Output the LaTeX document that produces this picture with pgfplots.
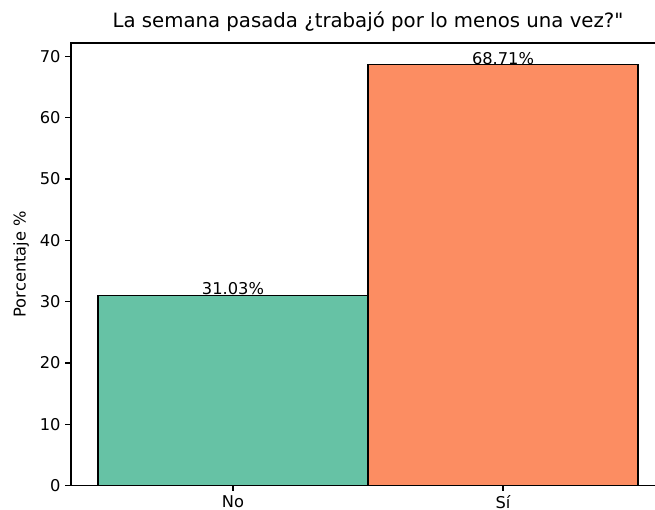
\documentclass[border=0pt]{standalone}
\usepackage{pgfplots}
\pgfplotsset{compat=1.18}
\usepackage{fontspec}
\setmainfont{DejaVu Sans}[Ligatures=TeXOff]
\definecolor{cno}{HTML}{66C2A5}
\definecolor{csi}{HTML}{FC8D62}
\begin{document}
\begin{tikzpicture}
% the reference is cropped at the right and bottom
\clip (-51.1pt,-17.3pt) rectangle (420.5pt,349.5pt);
\begin{axis}[
  scale only axis, width=427.7pt, height=318.5pt,
  xmin=-0.6, xmax=1.6, ymin=0, ymax=72.2,
  xtick={0,1}, xticklabels={No,Sí},
  ytick={0,10,...,70},
  tick align=outside, tick pos=left,
  major tick length=4pt,
  every tick/.style={black, line width=0.9pt},
  axis line style={black, line width=0.9pt},
  tick label style={font=\fontsize{11.7}{14}\selectfont},
  /pgf/number format/assume math mode=true,
  ylabel={Porcentaje \%},
  label style={font=\fontsize{11.7}{14}\selectfont},
  ylabel style={yshift=1pt},
  title={La semana pasada ¿trabajó por lo menos una vez?"},
  title style={font=\fontsize{14.2}{16}\selectfont, yshift=-1pt},
  ybar, bar shift=0pt, bar width=1,
  nodes near coords={\pgfmathprintnumber[fixed,precision=2,fixed zerofill]{\pgfplotspointmeta}\%},
  every node near coord/.style={anchor=base, inner sep=0pt, yshift=0.3pt, font=\fontsize{11.7}{14}\selectfont, black},
]
\addplot[fill=cno, draw=black, line width=0.9pt] coordinates {(0,31.03)};
\addplot[fill=csi, draw=black, line width=0.9pt] coordinates {(1,68.71)};
\end{axis}
\end{tikzpicture}
\end{document}
